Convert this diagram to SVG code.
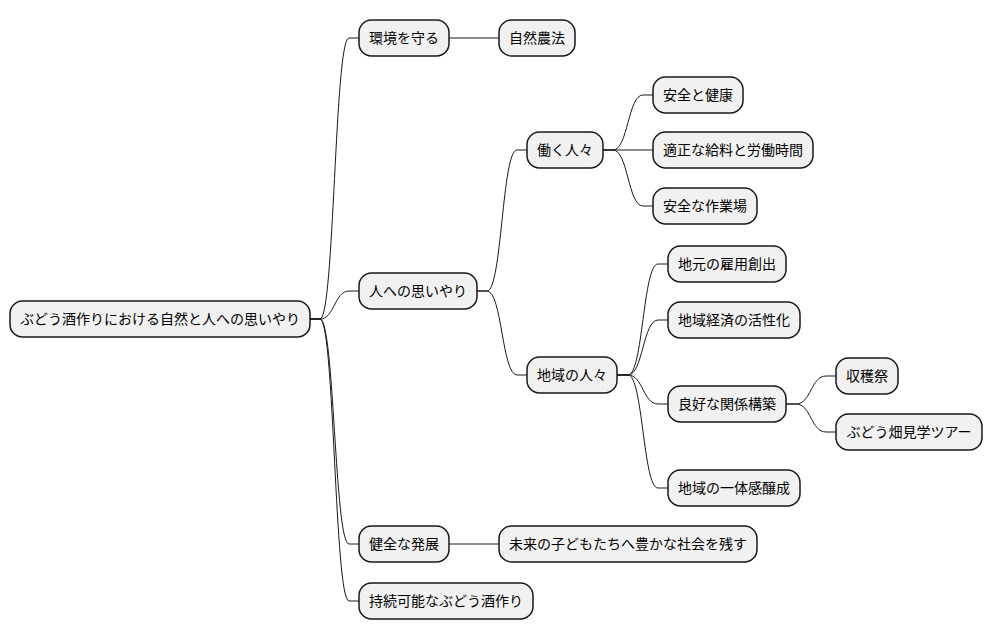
<svg xmlns="http://www.w3.org/2000/svg" width="992" height="640" viewBox="0 0 992 640">
<style>
.n rect{fill:#F1F1F1;stroke:#181818;stroke-width:1.5}
.n text{font-family:"Noto Sans CJK JP","Noto Sans",sans-serif;font-size:14px;fill:#000;text-anchor:middle}
#edges path{fill:none;stroke:#181818;stroke-width:1}
</style>
<rect width="992" height="640" fill="#FFFFFF"/>
<g id="edges">
<path d="M310 319 H320 C334.5 319 334.5 38 349 38 H359"/>
<path d="M310 319 H320 C334.5 319 334.5 291 349 291 H359"/>
<path d="M310 319 H320 C334.5 319 334.5 544 349 544 H359"/>
<path d="M310 319 H320 C334.5 319 334.5 601 349 601 H359"/>
<path d="M449 38 H499"/>
<path d="M477 291 H487 C502 291 502 150 517 150 H527"/>
<path d="M477 291 H487 C502 291 502 375 517 375 H527"/>
<path d="M449 544 H499"/>
<path d="M603 150 H613 C628 150 628 95 643 95 H653"/>
<path d="M603 150 H653"/>
<path d="M603 150 H613 C628 150 628 206 643 206 H653"/>
<path d="M617 375 H628 C643 375 643 264 658 264 H668"/>
<path d="M617 375 H628 C643 375 643 320 658 320 H668"/>
<path d="M617 375 H628 C643 375 643 404 658 404 H668"/>
<path d="M617 375 H628 C643 375 643 488 658 488 H668"/>
<path d="M786 404 H796 C811 404 811 376 826 376 H836"/>
<path d="M786 404 H796 C811 404 811 432 826 432 H836"/>
</g>
<g id="root" class="n"><rect x="10" y="301" width="300" height="36" rx="12.5"/><text x="160" y="324">ぶどう酒作りにおける自然と人への思いやり</text></g>
<g id="kankyo" class="n"><rect x="359" y="20" width="90" height="36" rx="12.5"/><text x="404" y="43">環境を守る</text></g>
<g id="shizen" class="n"><rect x="499" y="20" width="76" height="36" rx="12.5"/><text x="537" y="43">自然農法</text></g>
<g id="hito" class="n"><rect x="359" y="273" width="118" height="36" rx="12.5"/><text x="418" y="296">人への思いやり</text></g>
<g id="hataraku" class="n"><rect x="527" y="132" width="76" height="36" rx="12.5"/><text x="565" y="155">働く人々</text></g>
<g id="anzen" class="n"><rect x="653" y="77" width="90" height="36" rx="12.5"/><text x="698" y="100">安全と健康</text></g>
<g id="kyuryo" class="n"><rect x="653" y="132" width="160" height="36" rx="12.5"/><text x="733" y="155">適正な給料と労働時間</text></g>
<g id="sagyoba" class="n"><rect x="653" y="188" width="104" height="36" rx="12.5"/><text x="705" y="211">安全な作業場</text></g>
<g id="chiiki" class="n"><rect x="527" y="357" width="90" height="36" rx="12.5"/><text x="572" y="380">地域の人々</text></g>
<g id="koyo" class="n"><rect x="668" y="246" width="118" height="36" rx="12.5"/><text x="727" y="269">地元の雇用創出</text></g>
<g id="keizai" class="n"><rect x="668" y="302" width="132" height="36" rx="12.5"/><text x="734" y="325">地域経済の活性化</text></g>
<g id="kankei" class="n"><rect x="668" y="386" width="118" height="36" rx="12.5"/><text x="727" y="409">良好な関係構築</text></g>
<g id="shukaku" class="n"><rect x="836" y="358" width="62" height="36" rx="12.5"/><text x="867" y="381">収穫祭</text></g>
<g id="tour" class="n"><rect x="836" y="414" width="146" height="36" rx="12.5"/><text x="909" y="437">ぶどう畑見学ツアー</text></g>
<g id="ittai" class="n"><rect x="668" y="470" width="132" height="36" rx="12.5"/><text x="734" y="493">地域の一体感醸成</text></g>
<g id="kenzen" class="n"><rect x="359" y="526" width="90" height="36" rx="12.5"/><text x="404" y="549">健全な発展</text></g>
<g id="mirai" class="n"><rect x="499" y="526" width="258" height="36" rx="12.5"/><text x="628" y="549">未来の子どもたちへ豊かな社会を残す</text></g>
<g id="jizoku" class="n"><rect x="359" y="583" width="174" height="36" rx="12.5"/><text x="446" y="606">持続可能なぶどう酒作り</text></g>
</svg>
